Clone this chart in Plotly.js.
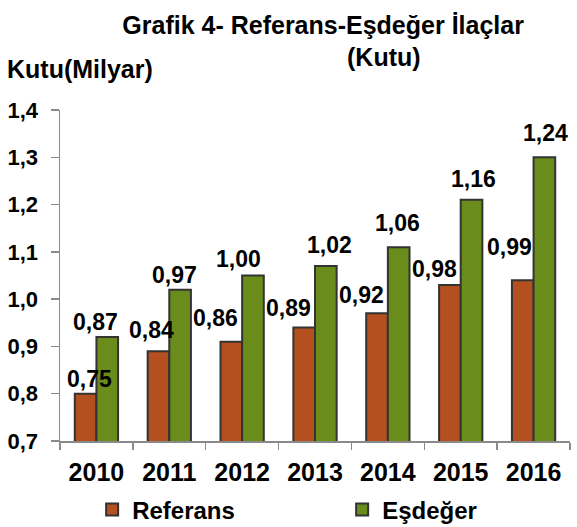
<!DOCTYPE html>
<html>
<head>
<meta charset="utf-8">
<script src="https://cdn.plot.ly/plotly-3.0.1.min.js"></script>
<style>html,body{margin:0;padding:0;background:#fff;}#chart{width:577px;height:527px;}</style>
</head>
<body>
<div id="chart"></div>
<script>
// Data
const years = ['2010', '2011', '2012', '2013', '2014', '2015', '2016'];
const referansBars = [0.80, 0.89, 0.91, 0.94, 0.97, 1.03, 1.04];
const esdegerBars = [0.92, 1.02, 1.05, 1.07, 1.11, 1.21, 1.30];
const referansLabels = ['0,75', '0,84', '0,86', '0,89', '0,92', '0,98', '0,99'];
const esdegerLabels = ['0,87', '0,97', '1,00', '1,02', '1,06', '1,16', '1,24'];
const yTicks = [0.7, 0.8, 0.9, 1.0, 1.1, 1.2, 1.3, 1.4];

// Label placement styles (pixel offsets)
const refDx = [4, -7, -16, -16, -16, -15, -13];
const refDy = [15, 21, 24, 20, 18, 16, 33];
const esdDx = [-12, -6, -14, 4, -1, 2, 1];
const esdDy = [15, 15, 17, 21, 24, 21, 24];
const barHalf = 10.8;

const FONT = 'Liberation Sans, Arial, sans-serif';

const traces = [
  {
    type: 'bar', name: 'Referans', x: years, y: referansBars,
    marker: {color: '#B4501F', line: {color: '#333333', width: 2}},
    hoverinfo: 'skip'
  },
  {
    type: 'bar', name: 'Eşdeğer', x: years, y: esdegerBars,
    marker: {color: '#6A8C1B', line: {color: '#333333', width: 2}},
    hoverinfo: 'skip'
  }
];

const annotations = [];
years.forEach((yr, i) => {
  annotations.push({
    x: i, y: referansBars[i], xref: 'x', yref: 'y', text: referansLabels[i],
    showarrow: false, xanchor: 'center', yanchor: 'middle',
    xshift: -barHalf + refDx[i], yshift: refDy[i],
    font: {family: FONT, size: 23, color: '#000', weight: 'bold'}
  });
  annotations.push({
    x: i, y: esdegerBars[i], xref: 'x', yref: 'y', text: esdegerLabels[i],
    showarrow: false, xanchor: 'center', yanchor: 'middle',
    xshift: barHalf + esdDx[i], yshift: esdDy[i],
    font: {family: FONT, size: 23, color: '#000', weight: 'bold'}
  });
});
annotations.push({
  text: '(Kutu)', xref: 'paper', yref: 'paper', x: 0.635, y: 1.1614,
  xanchor: 'center', yanchor: 'middle', showarrow: false,
  font: {family: FONT, size: 25, color: '#000', weight: 'bold'}
});
annotations.push({
  text: 'Kutu(Milyar)', xref: 'paper', yref: 'paper', x: -0.108, y: 1.125,
  xanchor: 'left', yanchor: 'middle', showarrow: false,
  font: {family: FONT, size: 25, color: '#000', weight: 'bold'}
});

const layout = {
  width: 577, height: 527,
  margin: {l: 60, r: 7, t: 109.5, b: 86, autoexpand: false},
  paper_bgcolor: '#fff', plot_bgcolor: '#fff',
  separators: ',.',
  font: {family: FONT, color: '#000'},
  title: {
    text: 'Grafik 4- Referans-Eşdeğer İlaçlar',
    x: 0.56, xanchor: 'center', y: 0.9526, yanchor: 'middle',
    font: {family: FONT, size: 25, color: '#000', weight: 'bold'}
  },
  barmode: 'group', bargap: 0.406, bargroupgap: 0,
  xaxis: {
    type: 'category', range: [-0.5, 6.5], autorange: false,
    showgrid: false, showline: true, linecolor: '#8a8a8a', linewidth: 1.5,
    ticks: 'outside', tickson: 'boundaries', ticklen: 7, tickcolor: '#8a8a8a', tickwidth: 1.5,
    ticklabelstandoff: 8, tickangle: 0,
    tickfont: {family: FONT, size: 25, color: '#000', weight: 'bold'}
  },
  yaxis: {
    range: [0.7, 1.4], autorange: false, tickvals: yTicks, tickformat: '.1f',
    showgrid: false, zeroline: false, showline: true, linecolor: '#8a8a8a', linewidth: 1.5,
    ticks: 'outside', ticklen: 8, tickcolor: '#8a8a8a', tickwidth: 1.5,
    ticklabelstandoff: 8,
    tickfont: {family: FONT, size: 22, color: '#000', weight: 'bold'}
  },
  legend: {
    orientation: 'h', x: 0.063, xanchor: 'left', y: -0.208, yanchor: 'middle',
    entrywidth: 205, entrywidthmode: 'pixels',
    font: {family: FONT, size: 24, color: '#000', weight: 'bold'}
  },
  annotations: annotations,
  showlegend: true
};

Plotly.newPlot('chart', traces, layout, {displayModeBar: false, staticPlot: true});
</script>
</body>
</html>
